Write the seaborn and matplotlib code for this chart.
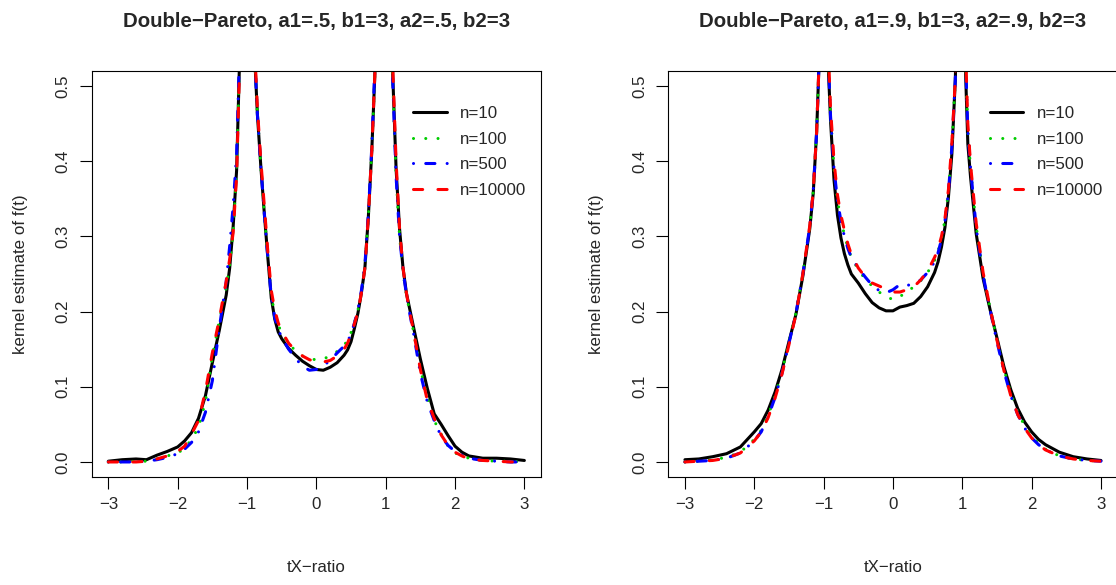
import matplotlib
matplotlib.use("Agg")
import matplotlib.pyplot as plt
import seaborn as sns
import pandas as pd

# series names and styling
labels = ['n=10', 'n=100', 'n=500', 'n=10000']
colors = ['black', '#00CD00', '#0000FF', '#FF0000']
dash_styles = ['', (0.01, 4), (0.01, 4, 3, 4), (3, 5)]

titles = ['Double\u2212Pareto, a1=.5, b1=3, a2=.5, b2=3',
          'Double\u2212Pareto, a1=.9, b1=3, a2=.9, b2=3']

# ---- left panel (a=.5) ----
x_left = [-3.0, -2.8, -2.6, -2.45, -2.3, -2.15, -2.0, -1.9, -1.8, -1.7,
          -1.6, -1.5, -1.4, -1.3, -1.25, -1.2, -1.15, -1.1, -1.0, -0.9,
          -0.85, -0.8, -0.75, -0.7, -0.65, -0.6, -0.55, -0.5, -0.4, -0.3,
          -0.2, -0.1, 0.0, 0.1, 0.2, 0.3, 0.4, 0.45, 0.5, 0.55,
          0.6, 0.65, 0.7, 0.75, 0.8, 0.85, 0.9, 0.97, 1.05, 1.1,
          1.15, 1.2, 1.25, 1.3, 1.35, 1.4, 1.5, 1.6, 1.7, 1.8,
          1.9, 2.0, 2.1, 2.2, 2.4, 2.6, 2.8, 3.0]
n10_left = [0.001, 0.003, 0.004, 0.003, 0.009, 0.014, 0.020, 0.028, 0.039, 0.058,
            0.088, 0.132, 0.175, 0.222, 0.258, 0.313, 0.388, 0.56, 0.9, 0.56,
            0.462, 0.392, 0.33, 0.272, 0.218, 0.19, 0.173, 0.164, 0.151, 0.142,
            0.134, 0.128, 0.123, 0.122, 0.126, 0.132, 0.142, 0.149, 0.160, 0.178,
            0.198, 0.225, 0.258, 0.326, 0.415, 0.53, 0.7, 0.9, 0.65, 0.52,
            0.39, 0.31, 0.258, 0.224, 0.202, 0.180, 0.137, 0.098, 0.064, 0.050,
            0.035, 0.021, 0.013, 0.008, 0.005, 0.005, 0.004, 0.002]
n100_left = [0.000, 0.000, 0.001, 0.001, 0.004, 0.008, 0.012, 0.018, 0.030, 0.046,
             0.080, 0.140, 0.188, 0.232, 0.262, 0.304, 0.388, 0.56, 0.9, 0.56,
             0.462, 0.392, 0.33, 0.272, 0.222, 0.196, 0.182, 0.172, 0.157, 0.148,
             0.141, 0.137, 0.136, 0.137, 0.141, 0.147, 0.155, 0.162, 0.172, 0.185,
             0.202, 0.226, 0.258, 0.326, 0.415, 0.53, 0.7, 0.9, 0.65, 0.51,
             0.38, 0.30, 0.252, 0.222, 0.198, 0.174, 0.124, 0.086, 0.055, 0.037,
             0.021, 0.012, 0.008, 0.005, 0.002, 0.001, 0.001, 0.000]
n500_left = [0.000, 0.000, 0.000, 0.001, 0.003, 0.006, 0.011, 0.017, 0.026, 0.040,
             0.066, 0.108, 0.178, 0.240, 0.287, 0.340, 0.41, 0.57, 0.9, 0.56,
             0.462, 0.392, 0.33, 0.272, 0.22, 0.192, 0.176, 0.166, 0.150, 0.138,
             0.127, 0.122, 0.123, 0.128, 0.135, 0.145, 0.154, 0.160, 0.170, 0.185,
             0.203, 0.228, 0.262, 0.33, 0.42, 0.54, 0.7, 0.9, 0.65, 0.51,
             0.38, 0.30, 0.255, 0.222, 0.196, 0.172, 0.118, 0.080, 0.055, 0.034,
             0.022, 0.014, 0.009, 0.005, 0.002, 0.001, 0.000, 0.000]
n10000_left = [0.000, 0.000, 0.000, 0.001, 0.004, 0.008, 0.014, 0.021, 0.037, 0.055,
               0.094, 0.145, 0.190, 0.240, 0.270, 0.305, 0.38, 0.55, 0.9, 0.57,
               0.47, 0.40, 0.34, 0.28, 0.228, 0.202, 0.185, 0.174, 0.158, 0.148,
               0.141, 0.136, 0.133, 0.133, 0.135, 0.141, 0.150, 0.158, 0.170, 0.184,
               0.200, 0.225, 0.258, 0.326, 0.415, 0.53, 0.7, 0.9, 0.66, 0.53,
               0.40, 0.31, 0.258, 0.224, 0.198, 0.175, 0.123, 0.082, 0.058, 0.036,
               0.022, 0.013, 0.008, 0.004, 0.002, 0.001, 0.000, 0.000]

# ---- right panel (a=.9) ----
x_right = [-3.0, -2.8, -2.6, -2.4, -2.2, -2.0, -1.9, -1.8, -1.7, -1.6,
           -1.5, -1.4, -1.3, -1.2, -1.15, -1.1, -1.07, -1.0, -0.93, -0.9,
           -0.85, -0.8, -0.75, -0.7, -0.65, -0.6, -0.5, -0.4, -0.3, -0.2,
           -0.1, 0.0, 0.1, 0.2, 0.3, 0.4, 0.5, 0.6, 0.65, 0.7,
           0.75, 0.8, 0.85, 0.9, 0.97, 1.05, 1.08, 1.12, 1.2, 1.3,
           1.4, 1.5, 1.6, 1.7, 1.8, 1.9, 2.0, 2.1, 2.2, 2.4,
           2.6, 2.8, 3.0]
n10_right = [0.003, 0.004, 0.007, 0.011, 0.020, 0.040, 0.051, 0.069, 0.093, 0.123,
             0.160, 0.196, 0.247, 0.31, 0.357, 0.44, 0.52, 0.85, 0.52, 0.454,
             0.375, 0.328, 0.298, 0.277, 0.262, 0.25, 0.238, 0.224, 0.212, 0.205,
             0.201, 0.201, 0.206, 0.208, 0.211, 0.220, 0.233, 0.252, 0.266, 0.286,
             0.312, 0.352, 0.41, 0.51, 0.85, 0.51, 0.423, 0.378, 0.304, 0.244,
             0.203, 0.165, 0.127, 0.096, 0.071, 0.053, 0.040, 0.030, 0.023, 0.013,
             0.007, 0.004, 0.002]
n100_right = [0.000, 0.001, 0.003, 0.006, 0.013, 0.030, 0.042, 0.062, 0.088, 0.120,
              0.160, 0.198, 0.25, 0.312, 0.36, 0.44, 0.52, 0.85, 0.53, 0.46,
              0.39, 0.348, 0.322, 0.302, 0.285, 0.272, 0.256, 0.243, 0.234, 0.226,
              0.220, 0.216, 0.220, 0.226, 0.233, 0.241, 0.252, 0.268, 0.28, 0.298,
              0.322, 0.36, 0.42, 0.51, 0.85, 0.53, 0.44, 0.39, 0.314, 0.25,
              0.205, 0.163, 0.124, 0.091, 0.066, 0.048, 0.034, 0.025, 0.017, 0.008,
              0.004, 0.002, 0.001]
n500_right = [0.000, 0.001, 0.002, 0.005, 0.012, 0.028, 0.040, 0.060, 0.086, 0.118,
              0.158, 0.197, 0.25, 0.313, 0.36, 0.44, 0.52, 0.85, 0.53, 0.46,
              0.39, 0.348, 0.32, 0.30, 0.284, 0.272, 0.258, 0.246, 0.235, 0.228,
              0.225, 0.229, 0.236, 0.235, 0.236, 0.242, 0.252, 0.266, 0.278, 0.296,
              0.32, 0.358, 0.42, 0.51, 0.85, 0.53, 0.44, 0.39, 0.312, 0.248,
              0.203, 0.160, 0.121, 0.088, 0.063, 0.045, 0.032, 0.023, 0.016, 0.008,
              0.004, 0.002, 0.001]
n10000_right = [0.000, 0.001, 0.002, 0.005, 0.012, 0.028, 0.040, 0.059, 0.085, 0.117,
                0.156, 0.196, 0.25, 0.314, 0.36, 0.44, 0.52, 0.85, 0.54, 0.47,
                0.40, 0.355, 0.328, 0.308, 0.29, 0.276, 0.258, 0.246, 0.238, 0.234,
                0.230, 0.226, 0.226, 0.229, 0.233, 0.242, 0.254, 0.272, 0.283, 0.30,
                0.324, 0.362, 0.425, 0.51, 0.85, 0.54, 0.45, 0.395, 0.318, 0.252,
                0.205, 0.162, 0.122, 0.088, 0.063, 0.045, 0.032, 0.023, 0.016, 0.008,
                0.004, 0.002, 0.001]


def long_form(x, series):
    frames = []
    for lab, vals in zip(labels, series):
        frames.append(pd.DataFrame({'t': x, 'dens': vals, 'n': lab}))
    return pd.concat(frames, ignore_index=True)


panels = [
    long_form(x_left, [n10_left, n100_left, n500_left, n10000_left]),
    long_form(x_right, [n10_right, n100_right, n500_right, n10000_right]),
]

sns.set_style("white")
plt.rcParams['font.family'] = ['Liberation Sans', 'DejaVu Sans']

W, H = 1116, 585
fig = plt.figure(figsize=(W / 100, H / 100), dpi=100)

# axes boxes in pixels: left, top, right, bottom
boxes = [(91.7, 71, 541, 477), (668.3, 71, 1117.6, 477)]

for df, title, (l, t, r, b) in zip(panels, titles, boxes):
    ax = fig.add_axes([l / W, 1 - b / H, (r - l) / W, (b - t) / H])
    sns.lineplot(data=df, x='t', y='dens', hue='n', style='n',
                 hue_order=labels, style_order=labels,
                 palette=dict(zip(labels, colors)),
                 dashes=dict(zip(labels, dash_styles)),
                 estimator=None, errorbar=None, sort=False,
                 linewidth=2.2, dash_capstyle='round', solid_capstyle='round',
                 ax=ax)

    ax.set_xlim(-3.24, 3.24)
    ax.set_ylim(-0.02, 0.52)
    ax.set_xticks([-3, -2, -1, 0, 1, 2, 3])
    ax.set_yticks([0.0, 0.1, 0.2, 0.3, 0.4, 0.5])
    ax.set_yticklabels(['0.0', '0.1', '0.2', '0.3', '0.4', '0.5'])
    ax.tick_params(axis='both', direction='out', length=8.3, width=0.8,
                   labelsize=12.2, color='black', bottom=True, left=True)
    ax.tick_params(axis='x', pad=6)
    ax.tick_params(axis='y', pad=7, labelrotation=90)
    for lab in ax.get_yticklabels():
        lab.set_va('center')
    for sp in ax.spines.values():
        sp.set_color('black')
        sp.set_linewidth(0.8)

    ax.set_xlabel('tX\u2212ratio', fontsize=12.2)
    ax.set_ylabel('kernel estimate of f(t)', fontsize=12.2)
    ax.xaxis.set_label_coords(0.5, (477 - 568) / (b - t))
    ax.xaxis.label.set_va('center')
    ax.yaxis.set_label_coords(-71.7 / (r - l), 0.5)
    ax.yaxis.label.set_va('center')

    ax.text(0.5, 1 + (t - 21) / (b - t), title, transform=ax.transAxes,
            ha='center', va='center', fontsize=14.7, fontweight='bold')

    handles, labs = ax.get_legend_handles_labels()
    ax.legend(handles, labs, loc='upper left',
              bbox_to_anchor=(0.715, 1 - (106 - t) / (b - t)),
              frameon=False, fontsize=12.2, handlelength=2.0,
              handletextpad=0.8, labelspacing=0.62, borderpad=0, borderaxespad=0)

fig.savefig('out.png', dpi=100)
